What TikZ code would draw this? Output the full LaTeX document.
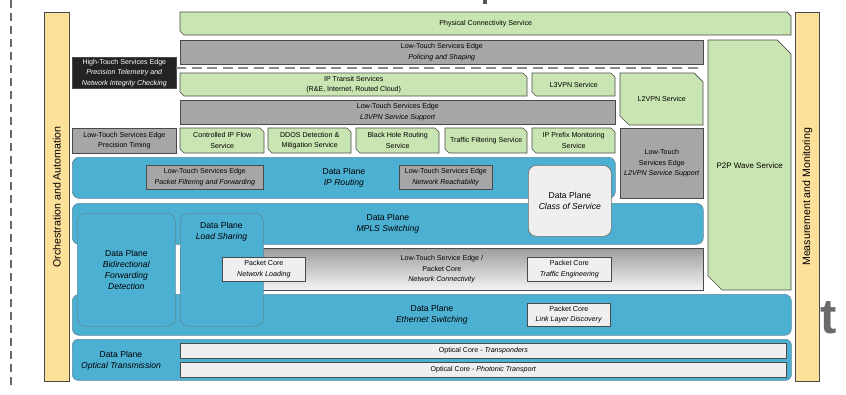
\documentclass[tikz,border=0pt]{standalone}
\usepackage{fontspec}
\setmainfont{Liberation Sans}

\definecolor{svcgreen}{HTML}{C9E5B1}
\definecolor{edgegray}{HTML}{A6A6A6}
\definecolor{planeblue}{HTML}{4CB0D3}
\definecolor{planeline}{HTML}{5F8B9E}
\definecolor{sidebar}{HTML}{FDE19B}
\definecolor{corefill}{HTML}{EFEFEF}
\definecolor{linegray}{HTML}{4A4A4A}
\definecolor{dashgray}{HTML}{8C8C8C}
\definecolor{htfill}{HTML}{232323}
\definecolor{glyphgray}{HTML}{6A6A6A}

\newcommand{\smtxt}{\fontsize{7.1}{10.6}\selectfont}
\newcommand{\mdtxt}{\fontsize{8.6}{10.8}\selectfont}
\newcommand{\sidetxt}{\fontsize{10.6}{12}\selectfont}

% green service box with clipped top-right and bottom-left corners
% #1 name, #2 x, #3 y, #4 width, #5 height, #6 chamfer, #7 text
\newcommand{\svcbox}[7]{%
  \filldraw[svcpath] (#2,#3) -- (#2+#4-#6,#3) -- (#2+#4,#3+#6) -- (#2+#4,#3+#5)
    -- (#2+#6,#3+#5) -- (#2,#3+#5-#6) -- cycle;
  \node[boxtext, minimum width=#4pt, minimum height=#5pt] (#1) at (#2,#3) {#7};}

\begin{document}
\begin{tikzpicture}[x=1pt,y=-1pt,
  box/.style={draw=linegray, line width=0.7pt, inner sep=1pt, align=center,
    anchor=north west, font=\smtxt, text=black},
  boxtext/.style={inner sep=1pt, align=center, anchor=north west, font=\smtxt, text=black},
  svcpath/.style={fill=svcgreen, draw=linegray, line width=0.7pt, line join=miter},
  lte/.style={box, fill=edgegray},
  plane/.style={box, rounded corners=7pt, fill=planeblue, draw=planeline, font=\mdtxt},
  core/.style={box, fill=corefill},
  bar/.style={box, fill=sidebar, font=\sidetxt},
  label/.style={inner sep=0, align=center, font=\mdtxt, text=black}
]
\useasboundingbox (0,0) rectangle (846,394);

% left dashed border and page fragments
\coordinate (leftTop) at (11,0);
\coordinate (leftBot) at (11,388);
\draw[line width=1.6pt, draw=glyphgray, dash pattern=on 8pt off 5pt] (leftTop) -- (leftBot);
\fill[glyphgray!80!black] (483,0) rectangle (487,4);
\node[anchor=base west, inner sep=0, text=glyphgray,
  font=\fontsize{49}{49}\selectfont\bfseries] (tglyph) at (820,333) {t};

% side bars
\node[bar, minimum width=25pt, minimum height=369pt] (orch) at (44,12)
  {\rotatebox{90}{Orchestration and Automation}};
\node[bar, minimum width=24pt, minimum height=369pt] (meas) at (795,12)
  {\rotatebox{90}{Measurement and Monitoring}};

% service layer
\svcbox{phys}{180}{12}{611}{23}{4}{Physical Connectivity Service}
\node[lte, minimum width=523pt, minimum height=24pt] (police) at (180,40)
  {Low-Touch Services Edge\\\textit{Policing and Shaping}};
\node[box, fill=htfill, text=white, minimum width=104pt, minimum height=31pt] (ht) at (72,57)
  {High-Touch Services Edge\\\textit{Precision Telemetry and}\\\textit{Network Integrity Checking}};
\coordinate (dashL) at (176,68);
\coordinate (dashR) at (703,68);
\draw[line width=2.2pt, draw=dashgray, dash pattern=on 10pt off 5.5pt] (dashL) -- (dashR);

\svcbox{iptransit}{180}{73}{347}{23}{4}{IP Transit Services\\(R\&E, Internet, Routed Cloud)}
\svcbox{l3vpn}{532}{73}{83}{23}{4}{L3VPN Service}
\svcbox{l2vpn}{620}{73}{83}{52}{9}{L2VPN Service}
\node[lte, minimum width=435pt, minimum height=24pt] (l3sup) at (180,100)
  {Low-Touch Services Edge\\\textit{L3VPN Service Support}};

\node[lte, minimum width=104pt, minimum height=25pt] (ptime) at (72,128)
  {Low-Touch Services Edge\\Precision Timing};
\svcbox{cipf}{180}{128}{84}{25}{4}{Controlled IP Flow\\Service}
\svcbox{ddos}{268}{128}{83}{25}{4}{DDOS Detection \&\\Mitigation Service}
\svcbox{bhole}{356}{128}{83}{25}{4}{Black Hole Routing\\Service}
\svcbox{tfilt}{445}{128}{82}{25}{4}{Traffic Filtering Service}
\svcbox{ipprefix}{532}{128}{83}{25}{4}{IP Prefix Monitoring\\Service}
\node[lte, minimum width=83pt, minimum height=70pt] (l2sup) at (620,128)
  {Low-Touch\\Services Edge\\\textit{L2VPN Service Support}};
\svcbox{p2p}{708}{40}{83}{250}{14}{\fontsize{8}{10}\selectfont P2P Wave Service}

% data plane layers
\node[plane, minimum width=543pt, minimum height=41pt] (iprouting) at (72,157)
  {Data Plane\\\textit{IP Routing}};
\node[lte, minimum width=117pt, minimum height=24pt] (pff) at (146,165)
  {Low-Touch Services Edge\\\textit{Packet Filtering and Forwarding}};
\node[lte, minimum width=93pt, minimum height=24pt] (nreach) at (399,165)
  {Low-Touch Services Edge\\\textit{Network Reachability}};

\node[plane, minimum width=631pt, minimum height=41pt] (mpls) at (72,203)
  {Data Plane\\\textit{MPLS Switching}};
\node[box, rounded corners=8pt, fill=corefill, draw=linegray!80, font=\mdtxt,
  minimum width=83pt, minimum height=71pt] (cos) at (528,165)
  {Data Plane\\\textit{Class of Service}};

\node[box, top color=edgegray!95!black, bottom color=white!96!black,
  minimum width=523pt, minimum height=42pt] (netconn) at (180,248)
  {Low-Touch Service Edge /\\Packet Core\\\textit{Network Connectivity}};

\node[plane, minimum width=719pt, minimum height=41pt] (ethernet) at (72,294)
  {Data Plane\\\textit{Ethernet Switching}};

\node[plane, rounded corners=8pt, minimum width=98pt, minimum height=113pt] (bfd) at (77,213)
  {Data Plane\\\textit{Bidirectional}\\\textit{Forwarding}\\\textit{Detection}};
\node[plane, rounded corners=8pt, minimum width=83pt, minimum height=113pt] (loadshare) at (180,213) {};
\node[label] (loadsharetxt) at (221.5,232) {Data Plane\\\textit{Load Sharing}};

\node[core, minimum width=83pt, minimum height=24pt] (netload) at (222,257)
  {Packet Core\\\textit{Network Loading}};
\node[core, minimum width=84pt, minimum height=24pt] (traffeng) at (527,257)
  {Packet Core\\\textit{Traffic Engineering}};
\node[core, minimum width=83pt, minimum height=23pt] (linklayer) at (527,303)
  {Packet Core\\\textit{Link Layer Discovery}};

% optical layer
\node[plane, rounded corners=6pt, minimum width=719pt, minimum height=41pt] (optical) at (72,339) {};
\node[label] (opticaltxt) at (121,360.5) {Data Plane\\\textit{Optical Transmission}};
\node[core, minimum width=606pt, minimum height=15pt] (transp) at (180,343)
  {Optical Core - \textit{Transponders}};
\node[core, minimum width=606pt, minimum height=15pt] (photonic) at (180,362)
  {Optical Core - \textit{Photonic Transport}};
\end{tikzpicture}
\end{document}
